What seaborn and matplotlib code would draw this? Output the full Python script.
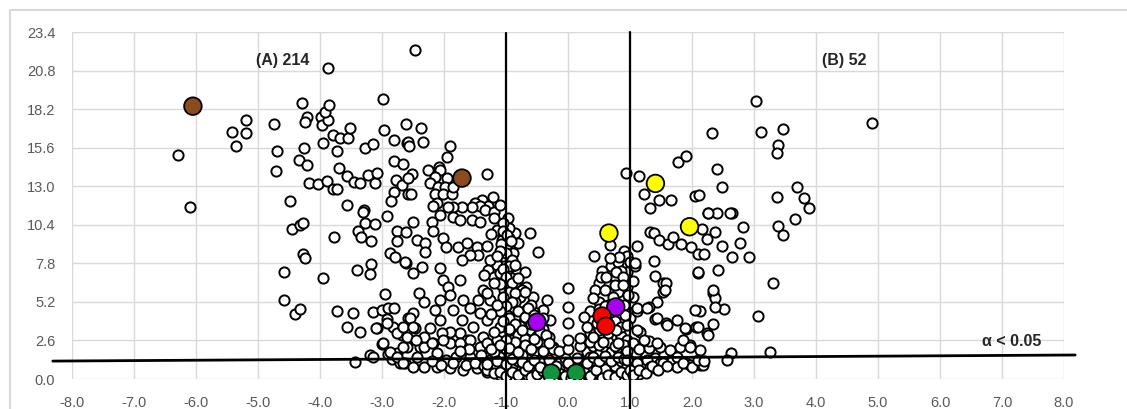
import numpy as np
import pandas as pd
import matplotlib
matplotlib.use('Agg')
import matplotlib.pyplot as plt
from matplotlib.lines import Line2D
import seaborn as sns

# ── Data: log2 fold change (x) and -log10 p (y) ──────────────────────────────

left_x = [-6.29, -6.10, -5.42, -5.35, -5.19, -5.19, -4.74, -4.69, -4.71, -4.48,
          -4.58, -4.58, -4.45, -4.32, -4.27, -4.27, -4.24, -4.40, -4.32, -3.95,
          -3.77, -3.73, -3.56, -4.34, -4.21, -4.26, -4.29, -4.21, -4.24, -3.87,
          -3.99, -3.97, -3.87, -3.92, -3.85, -3.95, -3.79, -3.73, -3.68, -3.55,
          -3.52, -3.69, -3.56, -3.45, -3.35, -4.18, -4.03, -3.89, -3.79, -3.73,
          -3.27, -3.15, -3.23, -3.11, -3.08, -2.98, -2.97, -2.61, -2.81, -2.60,
          -2.81, -2.66, -2.77, -2.68, -2.81, -2.58, -2.86, -3.29, -3.31, -2.92,
          -3.27, -3.11, -3.39, -3.34, -3.18, -2.76, -2.61, -2.76, -3.40, -3.18,
          -3.19, -2.87, -2.79, -2.61, -2.95, -3.47, -3.15, -3.00, -2.90, -2.81,
          -2.92, -2.82, -2.68, -2.58, -3.56, -3.35, -3.08, -3.00, -2.60, -2.90,
          -2.76, -2.84, -2.71, -2.63, -3.19, -3.44]
left_y = [15.10, 11.60, 16.65, 15.70, 17.50, 16.60, 17.20, 15.40, 14.00, 12.00,
          7.20, 5.30, 10.10, 10.40, 10.55, 8.40, 8.15, 4.40, 4.70, 6.80,
          9.60, 4.60, 11.73, 14.77, 14.40, 15.60, 18.60, 17.70, 17.30, 21.00,
          17.70, 17.10, 17.50, 18.00, 18.50, 15.90, 16.45, 15.40, 16.25, 16.25,
          16.90, 14.20, 13.70, 13.30, 13.20, 13.20, 13.15, 13.35, 12.80, 12.80,
          15.60, 15.85, 13.75, 13.20, 13.90, 18.90, 16.80, 17.20, 16.10, 15.90,
          14.70, 14.50, 13.40, 13.10, 12.60, 12.50, 12.00, 11.40, 11.26, 11.00,
          10.50, 10.45, 10.00, 9.60, 9.30, 10.00, 9.90, 9.30, 7.35, 7.75,
          7.10, 8.50, 8.20, 7.80, 5.70, 4.45, 4.50, 4.65, 4.80, 4.80,
          4.05, 3.50, 2.97, 4.10, 3.50, 3.20, 3.44, 2.36, 2.16, 1.70,
          1.75, 1.35, 1.08, 1.08, 1.62, 1.15]

mid_x = [-2.47, -2.37, -2.58, -2.56, -2.34, -1.90, -1.95, -2.52, -2.58, -2.26,
         -2.08, -2.06, -2.15, -2.23, -1.95, -2.10, -1.98, -2.15, -2.02, -1.87,
         -1.85, -1.31, -1.21, -1.39, -1.50, -1.29, -1.42, -1.55, -1.71, -1.85,
         -1.94, -2.53, -2.11, -2.18, -1.34, -1.20, -1.10, -0.96, -2.06, -1.85,
         -1.74, -1.55, -1.42, -1.20, -2.20, -2.17, -2.50, -2.44, -2.31, -2.31,
         -2.01, -1.96, -1.77, -1.63, -1.47, -1.45, -1.58, -1.71, -1.15, -1.07,
         -0.99, -0.88, -0.80, -0.85, -1.02, -1.15, -1.26, -1.29, -1.20, -1.10,
         -0.94, -0.83, -0.69, -0.61, -0.48, -2.63, -2.50, -2.36, -2.06, -2.01,
         -1.93, -1.74, -1.90, -2.06, -2.41, -2.33, -2.50, -2.55, -2.47, -2.15,
         -2.06, -1.85, -1.69, -1.58, -1.45, -1.37, -1.26, -1.42, -1.31, -1.71,
         -1.53, -1.74, -1.90, -2.04, -2.23, -2.60, -2.66, -2.39, -2.17, -1.90,
         -1.63, -1.37, -1.15, -1.10, -0.94, -0.99, -0.88, -0.77, -0.85, -1.04,
         -0.67, -0.56, -0.34, -0.67, -0.40, -0.29, -0.59, -0.40, -0.24]
mid_y = [22.20, 16.90, 16.00, 15.70, 16.00, 15.70, 14.95, 13.80, 13.55, 14.10,
         14.30, 14.10, 13.60, 13.20, 13.55, 12.95, 12.95, 12.50, 12.50, 12.50,
         12.95, 13.80, 12.30, 12.07, 11.90, 11.70, 11.70, 11.60, 11.60, 11.60,
         11.60, 12.50, 11.90, 11.70, 11.40, 11.28, 11.73, 10.83, 11.06, 10.95,
         10.72, 10.72, 10.61, 10.83, 10.61, 10.00, 10.61, 9.37, 9.15, 8.58,
         9.49, 8.92, 8.92, 9.15, 8.92, 8.36, 8.36, 8.02, 10.05, 9.37,
         8.81, 8.47, 9.15, 9.82, 7.91, 7.69, 8.02, 7.35, 6.90, 7.13,
         7.13, 7.24, 7.24, 9.82, 8.58, 7.91, 7.13, 7.57, 7.46, 6.68,
         6.22, 6.68, 5.66, 5.33, 5.78, 5.21, 4.43, 4.09, 3.42, 4.65,
         3.98, 4.65, 5.33, 4.77, 5.33, 6.00, 5.33, 4.43, 3.98, 3.98,
         3.53, 3.08, 3.19, 3.08, 3.42, 2.85, 2.18, 2.18, 2.40, 2.40,
         2.63, 2.85, 2.63, 3.53, 3.08, 4.32, 4.88, 5.55, 6.45, 6.00,
         6.22, 5.55, 5.33, 4.65, 4.65, 3.98, 3.08, 2.63, 2.18]

low_left_x = [-3.14, -2.98, -2.87, -2.76, -2.66, -2.50, -2.33, -2.12, -1.90, -1.69,
              -1.47, -1.31, -1.15, -2.33, -2.12, -1.96, -1.80, -1.58, -1.42, -1.26,
              -1.10, -2.44, -2.76, -2.66, -2.92, -3.09, -2.50, -2.33, -2.20, -2.01,
              -1.74, -1.58, -1.42, -1.31, -2.20, -2.05, -1.85, -1.65, -1.50, -1.35,
              -1.20, -1.05, -1.10, -1.60, -1.75, -2.45, -1.00, -1.05, -1.20, -1.40]
low_left_y = [1.50, 2.40, 1.84, 1.50, 1.05, 0.83, 0.83, 0.83, 0.72, 0.61,
              0.72, 0.49, 0.49, 2.18, 1.73, 1.28, 1.50, 1.50, 1.05, 1.28,
              1.50, 1.50, 3.08, 3.53, 3.76, 3.42, 3.53, 2.85, 2.40, 2.63,
              2.40, 2.63, 2.18, 2.40, 1.20, 0.95, 1.05, 0.95, 1.10, 0.85,
              0.90, 0.80, 0.30, 2.00, 1.90, 2.60, 2.00, 1.15, 1.80, 1.60]

center_x = [-0.95, -0.85, -0.75, -0.65, -0.55, -0.45, -0.35, -0.20, -0.10, 0.00,
            0.05, 0.20, 0.30, 0.40, 0.50, 0.60, 0.70, 0.80, 0.90, -0.90,
            -0.80, -0.70, -0.60, -0.50, -0.40, -0.30, -0.15, 0.10, 0.25, 0.35,
            0.45, 0.55, 0.65, 0.75, 0.85, 0.95, -0.95, -0.85, -0.75, -0.65,
            -0.55, -0.45, -0.35, -0.25, 0.30, 0.40, 0.50, 0.60, 0.70, 0.80,
            0.90, -0.90, -0.80, -0.70, -0.60, -0.50, -0.40, -0.30, 0.45, 0.55,
            0.70, 0.85, 0.95, -0.95, -0.85, -0.75, -0.65, -0.55, -0.40, 0.55,
            0.65, 0.85, 0.95, -0.95, -0.85, -0.75, -0.60, 0.50, 0.65, 0.85,
            0.90, -0.95, -0.90, -1.05, -1.00, -0.95, -1.05, -0.95, -0.90, 0.95,
            0.70, 0.80, 0.90, -0.15, 0.15, -0.05, 0.35, -0.60, -0.25, 0.60]
center_y = [0.30, 0.15, 0.40, 0.20, 0.60, 0.10, 0.50, 0.15, 0.30, 0.05,
            0.50, 0.20, 0.60, 0.10, 0.35, 0.15, 0.50, 0.25, 0.10, 0.90,
            1.20, 0.95, 1.40, 1.00, 1.30, 0.90, 1.10, 1.00, 1.30, 0.90,
            1.20, 0.80, 1.30, 0.90, 1.20, 0.90, 1.70, 2.00, 1.60, 2.20,
            1.80, 2.40, 1.70, 2.00, 1.80, 2.20, 1.70, 2.10, 1.80, 2.00,
            1.60, 2.60, 3.00, 2.70, 3.30, 2.90, 3.40, 2.80, 2.70, 3.10,
            2.80, 2.90, 2.60, 3.80, 4.20, 3.60, 4.00, 4.50, 4.10, 3.80,
            4.50, 4.10, 4.60, 5.50, 5.20, 6.00, 5.00, 5.20, 5.00, 5.50,
            6.60, 6.30, 7.60, 8.30, 9.00, 10.20, 10.50, 9.50, 6.80, 7.20,
            7.60, 7.90, 8.60, 0.70, 0.60, 1.40, 1.50, 0.45, 0.65, 0.70]

# extra points packed into the dense "V" around the fold-change cut-offs
dense_x = [-1.05, -0.98, -1.08, -0.92, -1.00, -0.90, -1.10, -0.95, -1.05, -0.85,
           -1.00, -0.90, -0.80, -1.10, -0.95, -0.85, -1.05, -0.70, -0.90, -1.00,
           -0.80, -1.10, -0.95, -0.70, -0.85, -1.05, -0.75, -0.95, -0.60, -0.65,
           -0.55, -0.45, -0.35, -0.50, -0.70, -0.85, -1.00, -1.20, -1.25, -1.15,
           -1.30, -1.20, -1.35, -1.15, -1.30, -1.25,
           -1.30, -1.20, -1.10, -1.00, -0.90, -0.80, -0.70, -0.60, -0.50, -0.40,
           -0.30, -0.15, -0.05, 0.05, 0.15, 0.25, 0.35, 0.45, 0.55, 0.65,
           0.75, 0.85, 0.95, 1.05, 1.15, 1.25, 1.40, 1.20,
           -1.30, -1.15, -1.00, -0.90, -0.75, -0.65, -0.55, -0.45, -0.30, -0.20,
           0.00, 0.15, 0.30, 0.40, 0.50, 0.60, 0.70, 0.80, 0.90, 1.00,
           1.10, 1.25, 1.40, 1.55,
           -1.25, -1.10, -0.95, -0.80, -0.60, -0.40, -0.55, -0.30, -0.15, 0.00,
           0.20, 0.35, 0.50, 0.65, 0.75, 0.90, 1.05, 1.15, 1.30, 0.95,
           0.35, 0.50, 0.60, 0.70, 0.90, 0.80, 0.95, 0.65, 0.50, 0.85,
           0.75, 0.85, 0.50, 0.35, 1.05, 1.05, 1.00, 0.55, 0.95, 0.82]
dense_y = [10.00, 9.70, 9.10, 9.30, 8.50, 8.00, 8.60, 7.60, 7.40, 7.70,
           6.90, 6.50, 6.80, 6.40, 5.90, 5.80, 5.50, 5.90, 5.20, 4.90,
           4.60, 4.60, 4.10, 4.20, 3.70, 3.90, 3.30, 3.40, 3.70, 4.80,
           4.30, 3.20, 3.00, 2.50, 2.30, 2.50, 2.60, 3.20, 4.40, 5.00,
           5.80, 6.50, 7.00, 8.30, 9.00, 9.80,
           0.60, 0.40, 0.50, 0.20, 0.45, 0.30, 0.60, 0.15, 0.35, 0.55,
           0.10, 0.40, 0.20, 0.10, 0.25, 0.45, 0.20, 0.60, 0.10, 0.30,
           0.15, 0.45, 0.25, 0.45, 0.35, 0.70, 0.75, 1.00,
           1.00, 1.20, 1.00, 1.35, 1.15, 0.90, 1.25, 0.80, 1.30, 0.90,
           1.10, 1.40, 1.05, 1.50, 1.20, 1.55, 1.20, 1.50, 1.35, 1.50,
           1.75, 1.60, 1.40, 1.60,
           2.00, 2.30, 2.10, 1.85, 2.00, 1.90, 2.70, 2.40, 1.90, 2.00,
           2.20, 2.50, 2.30, 2.50, 2.20, 2.30, 2.40, 2.00, 2.10, 1.90,
           4.60, 4.70, 4.90, 4.40, 5.00, 5.90, 6.20, 6.40, 6.50, 7.30,
           3.90, 3.50, 3.30, 3.10, 5.50, 6.60, 4.10, 7.30, 8.30, 8.20]

right_x = [2.32, 1.78, 1.90, 2.40, 0.94, 1.15, 2.48, 1.23, 1.47, 1.66,
           1.32, 2.05, 2.12, 2.25, 2.40, 2.64, 2.82, 2.16, 2.37, 2.24,
           2.48, 2.77, 2.65, 2.92, 1.32, 1.39, 1.47, 1.62, 1.70, 1.82,
           1.98, 2.09, 2.19, 0.67, 0.42, 0.67, 1.12, 1.00, 1.39, 1.40,
           1.54, 1.58, 1.54, 1.44, 1.30, 1.12, 2.09, 2.42, 2.34, 2.37,
           2.51, 2.13, 1.40, 1.58, 1.75, 1.90, 2.06, 2.24, 2.34, 3.07,
           2.63, 2.56, 1.08, 0.78, 0.89, 0.54, 0.62, 0.76, 0.89, 0.44,
           0.60, 0.73, 0.97, 0.41, 0.00, 0.00, 0.00, 0.25, 0.30, 0.46,
           0.65, 0.78, 0.95, 0.92, 0.41, 0.57, 0.81, 0.19, 0.00, 1.16,
           1.30, 1.48, 1.65, 1.81, 1.97, 2.13, 1.75, 1.91, 2.13, 1.48,
           1.27, 1.11, 0.95, 3.03, 4.90, 3.12, 3.47, 3.39, 3.37, 3.70,
           3.81, 3.89, 3.37, 3.66, 3.39, 3.46, 3.31, 3.25, 1.08, 1.56,
           1.11, 1.27, 1.43, 1.59, 1.89, 2.10, 2.26, 2.05, 2.37, 2.34,
           2.10, 2.61, 2.26, 1.11, 1.22, 1.43, 1.86, 1.97, 2.18, 1.97,
           1.75, 1.54, 1.32, 1.00, 1.05, 1.15, 1.25, 1.35, 1.45, 1.60,
           1.85, 2.00, 2.10, 2.20]
right_y = [16.57, 14.65, 15.04, 14.13, 13.87, 13.69, 12.97, 12.45, 12.07, 12.07,
           11.51, 12.34, 12.41, 11.21, 11.21, 11.21, 10.27, 10.14, 9.93, 9.44,
           8.99, 9.15, 8.21, 8.21, 9.93, 9.87, 9.37, 9.10, 9.55, 9.10,
           8.88, 8.43, 8.43, 9.04, 8.29, 8.14, 8.97, 7.91, 7.96, 6.97,
           6.50, 6.45, 5.89, 5.21, 4.88, 4.61, 7.17, 7.35, 5.82, 5.44,
           4.70, 4.61, 4.03, 3.75, 3.98, 3.35, 3.53, 3.08, 3.71, 4.25,
           1.73, 1.28, 7.62, 7.24, 6.90, 6.90, 6.90, 6.34, 6.34, 6.00,
           6.00, 5.55, 5.66, 5.44, 6.12, 4.88, 3.76, 4.20, 3.53, 3.76,
           3.08, 3.30, 3.64, 4.32, 2.85, 2.52, 2.40, 2.74, 2.63, 3.19,
           2.58, 2.18, 1.96, 2.18, 2.29, 1.96, 1.50, 1.05, 0.94, 1.05,
           1.28, 1.05, 1.28, 18.77, 17.24, 16.68, 16.83, 15.78, 15.22, 12.93,
           12.18, 11.55, 12.25, 10.79, 10.34, 9.71, 6.45, 1.84, 7.80, 6.00,
           4.77, 4.77, 4.09, 3.64, 3.42, 3.53, 2.97, 4.65, 4.88, 6.00,
           7.24, 11.17, 11.17, 3.30, 2.63, 2.40, 2.63, 2.18, 0.94, 0.94,
           0.83, 1.05, 0.83, 0.61, 0.30, 0.60, 0.40, 0.90, 0.60, 0.90,
           1.10, 0.80, 1.30, 1.20]

# highlighted proteins
hl_group = ['brown', 'brown', 'yellow', 'yellow', 'yellow',
            'purple', 'purple', 'red', 'red', 'green', 'green']
hl_x = [-6.05, -1.71, 1.41, 0.66, 1.96, 0.77, -0.50, 0.55, 0.61, -0.27, 0.13]
hl_y = [18.40, 13.55, 13.19, 9.84, 10.27, 4.86, 3.84, 4.25, 3.57, 0.40, 0.40]
hl_colors = {'brown': '#8B4B1F', 'yellow': '#FFFF00', 'purple': '#A800F0',
             'red': '#FF0000', 'green': '#12943E'}

count_a = '(A) 214'
count_b = '(B) 52'
alpha_label = '\u03b1 < 0.05'

# ── Build frames ─────────────────────────────────────────────────────────────

df = pd.DataFrame({
    'x': left_x + mid_x + low_left_x + center_x + dense_x + right_x,
    'y': left_y + mid_y + low_left_y + center_y + dense_y + right_y,
})
hl = pd.DataFrame({'x': hl_x, 'y': hl_y, 'group': hl_group})

# ── Plot ─────────────────────────────────────────────────────────────────────

sns.set_style('white')
plt.rcParams['font.family'] = ['Liberation Sans', 'DejaVu Sans']

fig = plt.figure(figsize=(11.27, 4.09), dpi=100)
ax = fig.add_axes([0.0639, 0.0733, 0.8802, 0.8484])

sns.scatterplot(data=df, x='x', y='y', ax=ax, s=54, color='white',
                edgecolor='black', linewidth=1.4, zorder=3, legend=False)
sns.scatterplot(data=hl, x='x', y='y', hue='group', palette=hl_colors, ax=ax,
                s=160, edgecolor='black', linewidth=1.3, zorder=4, legend=False)

ax.set_xlim(-8, 8)
ax.set_ylim(0, 23.4)
ax.set_xticks(np.arange(-8, 8.1, 1.0))
ax.set_yticks(np.arange(0, 23.41, 2.6))
ax.set_xticklabels([f'{v:.1f}' for v in np.arange(-8, 8.1, 1.0)])
ax.set_yticklabels([f'{v:.1f}' for v in np.arange(0, 23.41, 2.6)])
ax.tick_params(axis='both', length=0, labelsize=10.5, colors='#595959')
ax.tick_params(axis='x', pad=12)
ax.tick_params(axis='y', pad=12)
ax.grid(True, color='#d9d9d9', linewidth=1.0, zorder=0)
ax.set_axisbelow(True)
for sp in ax.spines.values():
    sp.set_visible(False)
ax.set_xlabel('')
ax.set_ylabel('')

# threshold lines
ax.plot([-8.31, 8.18], [1.21, 1.62], color='black', lw=2.0, clip_on=False, zorder=5)
ax.plot([-1, -1], [23.33, -2.0], color='black', lw=1.6, clip_on=False, zorder=5)
ax.plot([1, 1], [23.4, -2.0], color='black', lw=1.6, clip_on=False, zorder=5)

ax.text(-5.03, 21.5, count_a, fontsize=11.5, fontweight='bold', va='center')
ax.text(4.1, 21.5, count_b, fontsize=11.5, fontweight='bold', va='center')
ax.text(6.68, 2.5, alpha_label, fontsize=11.5, fontweight='bold', va='center')

# outer chart frame
fig.add_artist(Line2D([10 / 1127, 1.0], [1 - 10 / 409, 1 - 10 / 409],
                      color='#d9d9d9', lw=1.5))
fig.add_artist(Line2D([10 / 1127, 10 / 1127], [0.0, 1 - 10 / 409],
                      color='#d9d9d9', lw=1.5))

fig.savefig('out.png', dpi=100)
plt.close(fig)
